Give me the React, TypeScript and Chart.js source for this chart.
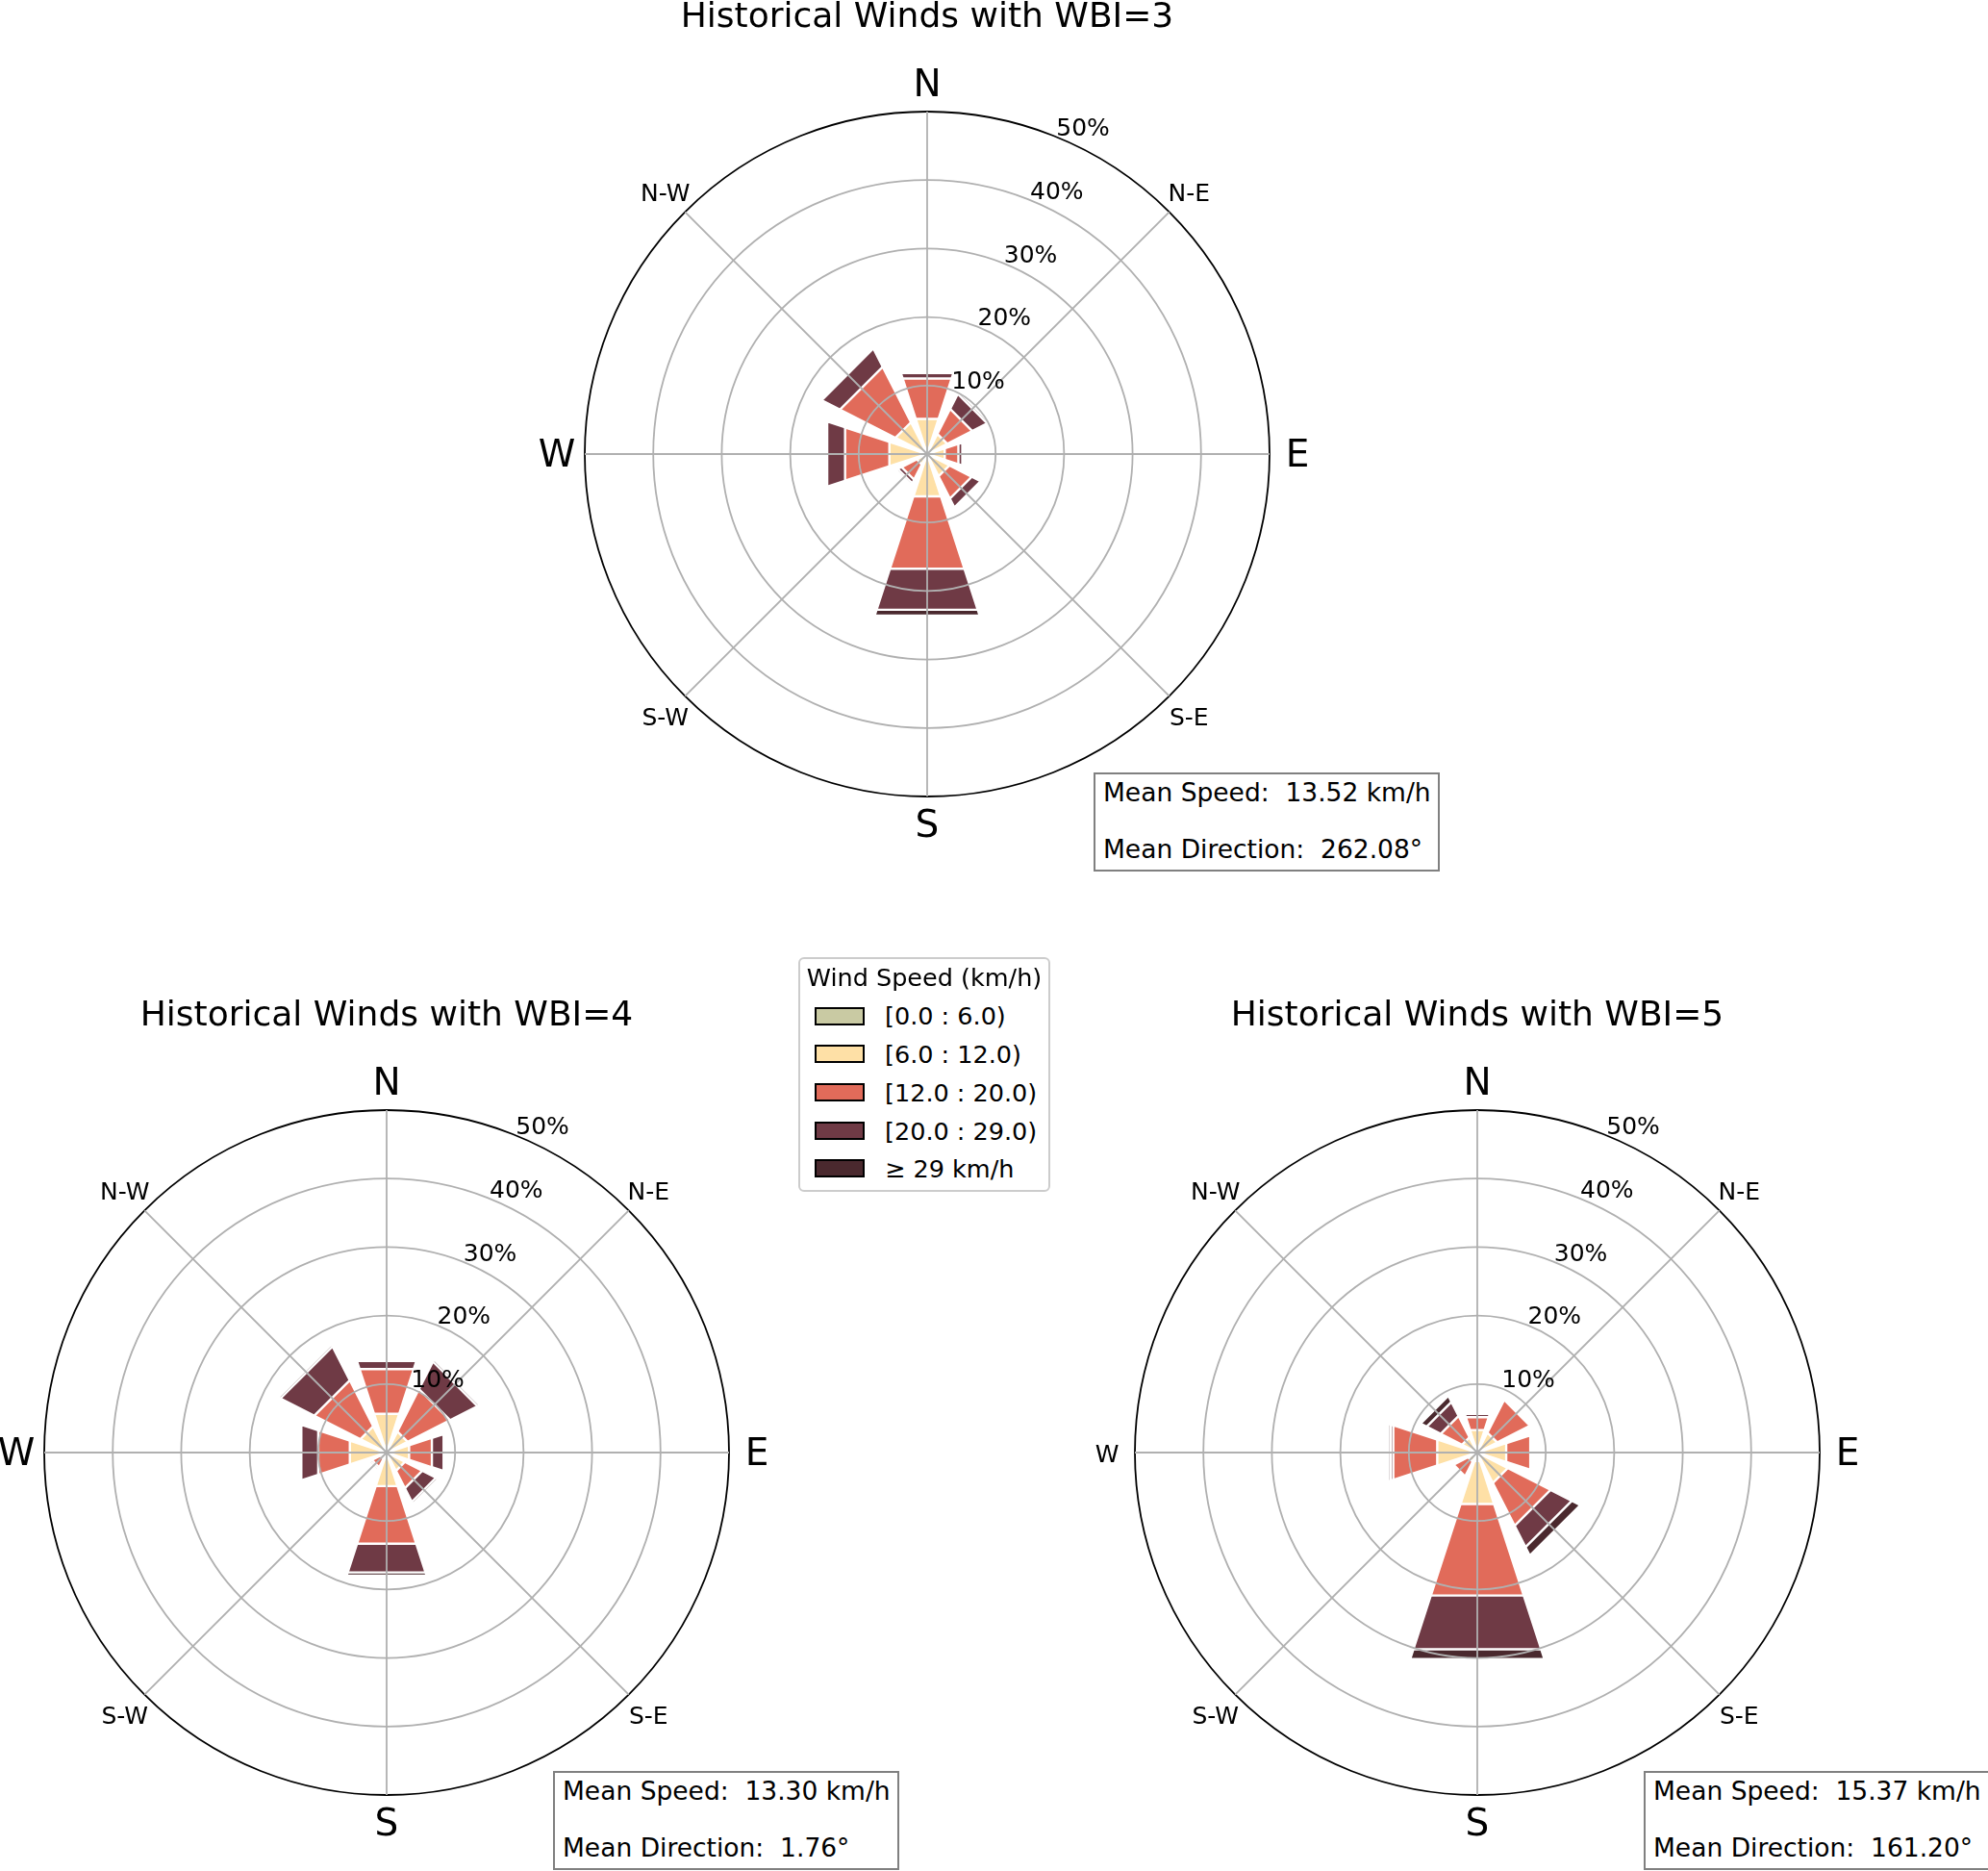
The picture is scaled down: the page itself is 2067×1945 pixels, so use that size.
import { useEffect, useRef } from 'react'
import { Chart, PolarAreaController, ArcElement, RadialLinearScale } from 'chart.js'
import type { Plugin, ScriptableContext } from 'chart.js'

Chart.register(PolarAreaController, ArcElement, RadialLinearScale)

const FONT = '"DejaVu Sans", sans-serif'

const DIRECTIONS = ['N', 'N-E', 'E', 'S-E', 'S', 'S-W', 'W', 'N-W']
const SPEED_BINS = ['[0.0 : 6.0)', '[6.0 : 12.0)', '[12.0 : 20.0)', '[20.0 : 29.0)', '\u2265 29 km/h']
const BIN_COLORS = ['#c9caa3', '#fee0a6', '#e16b5a', '#6f3a45', '#4a292e']
const R_TICKS = [10, 20, 30, 40, 50]

// frequency (%) per direction, order N, N-E, E, S-E, S, S-W, W, N-W
const WBI3_0_6 = [0.3, 0.3, 0.3, 0.3, 0.4, 0.2, 0.4, 0.3]
const WBI3_6_12 = [5.1, 3.0, 2.4, 3.35, 6.1, 1.5, 5.4, 4.9]
const WBI3_12_20 = [6.2, 4.1, 2.1, 3.65, 11.1, 2.5, 6.8, 9.1]
const WBI3_20_29 = [0.85, 2.45, 0.6, 1.45, 6.3, 0.6, 2.75, 3.0]
const WBI3_29_UP = [0, 0.35, 0, 0, 0.9, 0.3, 0.3, 0]

const WBI4_0_6 = [0.3, 0.3, 0.3, 0.3, 0.4, 0.2, 0.3, 0.3]
const WBI4_6_12 = [5.65, 3.15, 3.15, 2.7, 4.75, 0.8, 5.35, 4.0]
const WBI4_12_20 = [6.85, 6.95, 3.5, 2.85, 8.85, 1.4, 4.85, 7.55]
const WBI4_20_29 = [1.25, 4.5, 1.8, 2.25, 4.4, 0.3, 2.6, 5.55]
const WBI4_29_UP = [0, 0.35, 0, 0.35, 0.5, 0.3, 0, 0.35]

const WBI5_0_6 = [0.3, 0.3, 0.3, 0.3, 1.3, 0.2, 0.3, 0.3]
const WBI5_6_12 = [3.15, 2.96, 4.14, 4.7, 6.6, 1.3, 5.85, 2.2]
const WBI5_12_20 = [1.98, 5.38, 3.7, 7.0, 14.05, 2.4, 6.75, 3.5]
const WBI5_20_29 = [0.49, 0, 0.3, 3.5, 8.25, 0, 0.4, 2.3]
const WBI5_29_UP = [0, 0, 0, 1.4, 1.5, 0, 0.35, 1.0]

const BAR_ANGLE = 36 // degrees covered by one direction bar
const GAP_ANGLE = 9

interface RoseProps {
  title: string
  bins: number[][]
  meanSpeed: string
  meanDir: string
  cx: number
  cy: number
  smallW?: boolean
}

function Txt({ x, y, size, children, center }: { x: number; y: number; size: number; children: string; center?: boolean }) {
  // y is the text baseline
  return (
    <div
      style={{
        position: 'absolute',
        left: center ? x - 300 : x,
        width: center ? 600 : undefined,
        textAlign: center ? 'center' : 'left',
        top: y - 0.846 * size,
        fontSize: size,
        lineHeight: `${size}px`,
        whiteSpace: 'pre',
        color: '#000',
      }}
    >
      {children}
    </div>
  )
}

function WindRose({ title, bins, meanSpeed, meanDir, cx, cy, smallW }: RoseProps) {
  const ref = useRef<HTMLCanvasElement>(null)

  useEffect(() => {
    if (!ref.current) return

    // stack the speed bins: each dataset is drawn as the running total
    const cum: number[][] = []
    let run = DIRECTIONS.map(() => 0)
    bins.forEach((b) => {
      run = run.map((v, i) => v + b[i])
      cum.push(run)
    })

    const isBar = (i: number) => i % 2 === 1

    const datasets = cum.map((c, bi) => ({
      label: SPEED_BINS[bi],
      // first slot is a negative offset so that each bar is centred on its direction
      data: [0, ...c.flatMap((v) => [v, 0])],
      backgroundColor: (ctx: ScriptableContext<'polarArea'>) => (isBar(ctx.dataIndex) ? BIN_COLORS[bi] : 'rgba(0,0,0,0)'),
      borderColor: '#ffffff',
      borderWidth: (ctx: ScriptableContext<'polarArea'>) => (isBar(ctx.dataIndex) ? 2.4 : 0),
      angle: (ctx: ScriptableContext<'polarArea'>) =>
        ctx.dataIndex === 0 ? -BAR_ANGLE / 2 : isBar(ctx.dataIndex) ? BAR_ANGLE : GAP_ANGLE,
      circular: false,
    }))

    const textPlugin: Plugin<'polarArea'> = {
      id: 'roseText',
      afterDraw(chart) {
        const s = chart.scales.r as RadialLinearScale
        const ctx = chart.ctx
        ctx.save()
        ctx.fillStyle = '#000'

        ctx.font = `25px ${FONT}`
        ctx.textAlign = 'left'
        ctx.textBaseline = 'alphabetic'
        const a = (22.5 * Math.PI) / 180
        R_TICKS.forEach((v) => {
          const d = s.getDistanceFromCenterForValue(v)
          ctx.fillText(`${v}%`, s.xCenter + d * Math.sin(a) - 2, s.yCenter - d * Math.cos(a) - 2)
        })

        ctx.textAlign = 'center'
        ctx.textBaseline = 'middle'
        DIRECTIONS.forEach((lab, i) => {
          const p = s.getPointPosition(i, s.drawingArea + 29)
          const big = lab.length === 1 && !(smallW && lab === 'W')
          ctx.font = `${big ? 39 : 25}px ${FONT}`
          ctx.fillText(lab, p.x, p.y + 3)
        })

        ctx.font = `36px ${FONT}`
        ctx.textBaseline = 'alphabetic'
        ctx.fillText(title, s.xCenter, s.yCenter - 444)
        ctx.restore()
      },
    }

    const chart = new Chart(ref.current, {
      type: 'polarArea',
      data: { labels: DIRECTIONS, datasets },
      options: {
        responsive: false,
        animation: false,
        layout: { padding: 144 },
        plugins: { legend: { display: false }, tooltip: { enabled: false } },
        scales: {
          r: {
            min: 0,
            max: 50,
            startAngle: 0,
            ticks: { display: false, stepSize: 10 },
            grid: {
              z: 1,
              circular: true,
              color: (ctx) => (ctx.tick && ctx.tick.value === 50 ? '#000000' : '#b0b0b0'),
              lineWidth: 1.8,
            },
            angleLines: { display: true, color: '#b0b0b0', lineWidth: 1.8 },
            pointLabels: { display: false },
          },
        },
      },
      plugins: [textPlugin],
    })

    return () => chart.destroy()
  }, [title, bins, cx, cy, smallW])

  return (
    <>
      <div style={{ position: 'absolute', left: cx - 500, top: cy - 500, width: 1000, height: 1000 }}>
        <canvas ref={ref} width={1000} height={1000} style={{ display: 'block' }} />
      </div>
      <div
        style={{
          position: 'absolute',
          left: cx + 173,
          top: cy + 331,
          border: '2px solid #808080',
          padding: '6px 7px 8px 8px',
          background: '#fff',
          fontSize: 26.5,
          whiteSpace: 'pre',
        }}
      >
        <div style={{ lineHeight: '26px' }}>{`Mean Speed:  ${meanSpeed} km/h`}</div>
        <div style={{ lineHeight: '26px', marginTop: 33 }}>{`Mean Direction:  ${meanDir}\u00b0`}</div>
      </div>
    </>
  )
}

function SpeedLegend() {
  const rowY = (i: number) => 1056 + 39.7 * i
  return (
    <>
      <div
        style={{
          position: 'absolute',
          left: 830,
          top: 995,
          width: 262,
          height: 244,
          boxSizing: 'border-box',
          border: '2px solid #cccccc',
          borderRadius: 6,
          background: '#fff',
        }}
      />
      <Txt x={961} y={1026} size={25.5} center>
        Wind Speed (km/h)
      </Txt>
      {SPEED_BINS.map((lab, i) => (
        <div key={lab}>
          <div
            style={{
              position: 'absolute',
              left: 847,
              top: rowY(i) - 9.5,
              width: 52,
              height: 19,
              boxSizing: 'border-box',
              border: '2px solid #000',
              background: BIN_COLORS[i],
            }}
          />
          <Txt x={920} y={rowY(i) + 10} size={25.5}>
            {lab}
          </Txt>
        </div>
      ))}
    </>
  )
}

export default function App() {
  return (
    <div
      style={{
        position: 'absolute',
        left: 0,
        top: 0,
        width: 2067,
        height: 1945,
        overflow: 'hidden',
        background: '#fff',
        fontFamily: FONT,
      }}
    >
      <WindRose
        title="Historical Winds with WBI=3"
        bins={[WBI3_0_6, WBI3_6_12, WBI3_12_20, WBI3_20_29, WBI3_29_UP]}
        meanSpeed="13.52"
        meanDir="262.08"
        cx={964}
        cy={472}
      />
      <WindRose
        title="Historical Winds with WBI=4"
        bins={[WBI4_0_6, WBI4_6_12, WBI4_12_20, WBI4_20_29, WBI4_29_UP]}
        meanSpeed="13.30"
        meanDir="1.76"
        cx={402}
        cy={1510}
      />
      <WindRose
        title="Historical Winds with WBI=5"
        bins={[WBI5_0_6, WBI5_6_12, WBI5_12_20, WBI5_20_29, WBI5_29_UP]}
        meanSpeed="15.37"
        meanDir="161.20"
        cx={1536}
        cy={1510}
        smallW
      />
      <SpeedLegend />
    </div>
  )
}
